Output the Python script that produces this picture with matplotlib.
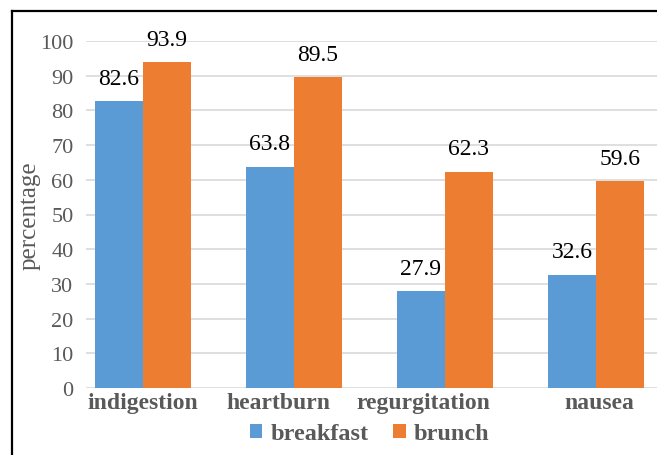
import numpy as np
import matplotlib
matplotlib.use("Agg")
from matplotlib import pyplot as plt
from matplotlib.lines import Line2D

# Data
categories = ["indigestion", "heartburn", "regurgitation", "nausea"]
breakfast = [82.6, 63.8, 27.9, 32.6]
brunch = [93.9, 89.5, 62.3, 59.6]
yticks = [0, 10, 20, 30, 40, 50, 60, 70, 80, 90, 100]

plt.rcParams["font.family"] = ["Liberation Serif", "DejaVu Serif"]

W, H = 657, 456
fig = plt.figure(figsize=(W / 100, H / 100), dpi=100)
ax = fig.add_axes([86 / W, (H - 389) / H, 1 - 86 / W, (389 - 42) / H])

x = np.arange(len(categories))
w = 0.318
b1 = ax.bar(x - w / 2, breakfast, w, color="#5B9BD5", label="breakfast", zorder=2)
b2 = ax.bar(x + w / 2, brunch, w, color="#ED7D31", label="brunch", zorder=2)

for bars, vals in ((b1, breakfast), (b2, brunch)):
    for r, v in zip(bars, vals):
        ax.annotate(f"{v:.1f}", (r.get_x() + r.get_width() / 2, v),
                    xytext=(0, 9), textcoords="offset points",
                    ha="center", va="bottom", fontsize=17, color="black")

ax.set_xlim(-0.377, 3.404)
ax.set_ylim(0, 100)
ax.set_yticks(yticks)
# category labels sit slightly off-centre in the original
label_shift = [0.0, -0.106, -0.146, 0.02]
ax.set_xticks(x + np.array(label_shift))
ax.set_xticklabels(categories, fontweight="bold")
ax.tick_params(axis="y", length=0, pad=9, labelsize=16, labelcolor="#595959")
ax.tick_params(axis="x", length=0, pad=3, labelsize=17, labelcolor="#595959")
ax.grid(axis="y", color="#D9D9D9", lw=1.2, zorder=0)
for s in ax.spines.values():
    s.set_visible(False)
ax.set_ylabel("percentage", fontsize=18, color="#595959", labelpad=0)

fig.legend(handles=[b1, b2], loc="center", bbox_to_anchor=(369.5 / W, 21 / H),
           ncol=2, frameon=False, handlelength=0.52, handleheight=0.52,
           handletextpad=0.33, columnspacing=1.0,
           prop={"size": 17.5, "weight": "bold"}, labelcolor="#595959")

# outer chart border (cut off at right and bottom)
x0, y0 = 11.5 / W, 1 - 11.5 / H
fig.add_artist(Line2D([x0, x0], [0, y0], color="black", lw=1.6, transform=fig.transFigure))
fig.add_artist(Line2D([x0, 1], [y0, y0], color="black", lw=1.6, transform=fig.transFigure))

fig.savefig("out.png", dpi=100)
